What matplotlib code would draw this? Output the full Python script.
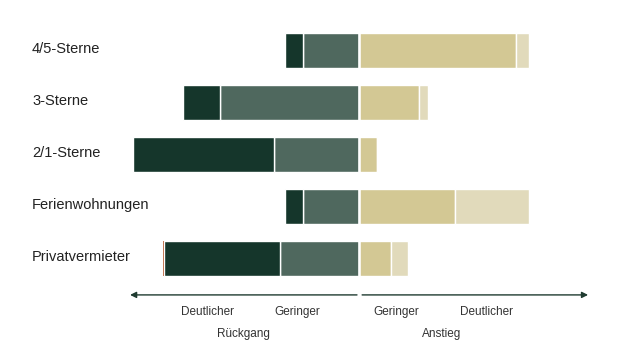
import numpy as np
import matplotlib
matplotlib.use('Agg')
import matplotlib.pyplot as plt

plt.rcParams['font.family'] = ['Liberation Sans', 'DejaVu Sans']

# Daten (Anteile in %)
kategorien = ['4/5-Sterne', '3-Sterne', '2/1-Sterne', 'Ferienwohnungen', 'Privatvermieter']
sonstige = [0, 0, 0, 0, 0.4]
rueckgang_deutlich = [7.4, 15.2, 57.8, 7.4, 47.5]
rueckgang_gering = [22.9, 56.8, 34.7, 22.8, 32.3]
anstieg_gering = [64.3, 24.6, 7.4, 39.3, 13.1]
anstieg_deutlich = [5.3, 3.7, 0.0, 30.3, 7.0]

c_sonst = '#C47A58'
c_rd = '#15362B'
c_rg = '#4F685E'
c_ag = '#D3C894'
c_ad = '#E1DABB'
c_text = '#333333'

fig = plt.figure(figsize=(6.42, 3.53), dpi=100)
ax = fig.add_axes([0, 0, 1, 1])
ax.set_xlim(-147, 116.1)
ax.set_ylim(5.817, -0.971)
ax.axis('off')

y = np.arange(len(kategorien))
rd = np.array(rueckgang_deutlich)
rg = np.array(rueckgang_gering)
ag = np.array(anstieg_gering)
ad = np.array(anstieg_deutlich)
so = np.array(sonstige)

h = 0.66
kw = dict(height=h, edgecolor='white', linewidth=1.0)
ax.barh(y, -rg, left=0, color=c_rg, **kw)
ax.barh(y, -rd, left=-rg, color=c_rd, **kw)
ax.barh(y, -so, left=-rg - rd, color=c_sonst, height=h, linewidth=0)
ax.barh(y, ag, left=0, color=c_ag, **kw)
ax.barh(y, ad, left=ag, color=c_ad, **kw)
# weisse Trennlinie in der Mitte
ax.axvline(0, color='white', lw=1.8)

for yi, name in zip(y, kategorien):
    ax.text(0.05, yi - 0.02, name, transform=ax.get_yaxis_transform(),
            ha='left', va='center', fontsize=10.5, color='#222222')

# Achse unten mit Pfeilen
arrow_y = 4.70
ax.annotate('', xy=(-93.7, arrow_y), xytext=(-0.7, arrow_y),
            arrowprops=dict(arrowstyle='-|>', color='#1F3B30', lw=1,
                            mutation_scale=9, shrinkA=0, shrinkB=0))
ax.annotate('', xy=(94, arrow_y), xytext=(1.4, arrow_y),
            arrowprops=dict(arrowstyle='-|>', color='#1F3B30', lw=1,
                            mutation_scale=9, shrinkA=0, shrinkB=0))

for xt, s in [(-61.8, 'Deutlicher'), (-25.3, 'Geringer'),
              (15.3, 'Geringer'), (52.2, 'Deutlicher')]:
    ax.text(xt, 5.02, s, ha='center', va='center', fontsize=8.5, color=c_text)
ax.text(-47.4, 5.45, 'Rückgang', ha='center', va='center', fontsize=8.5, color=c_text)
ax.text(34.1, 5.45, 'Anstieg', ha='center', va='center', fontsize=8.5, color=c_text)

fig.savefig('out.png', dpi=100)
